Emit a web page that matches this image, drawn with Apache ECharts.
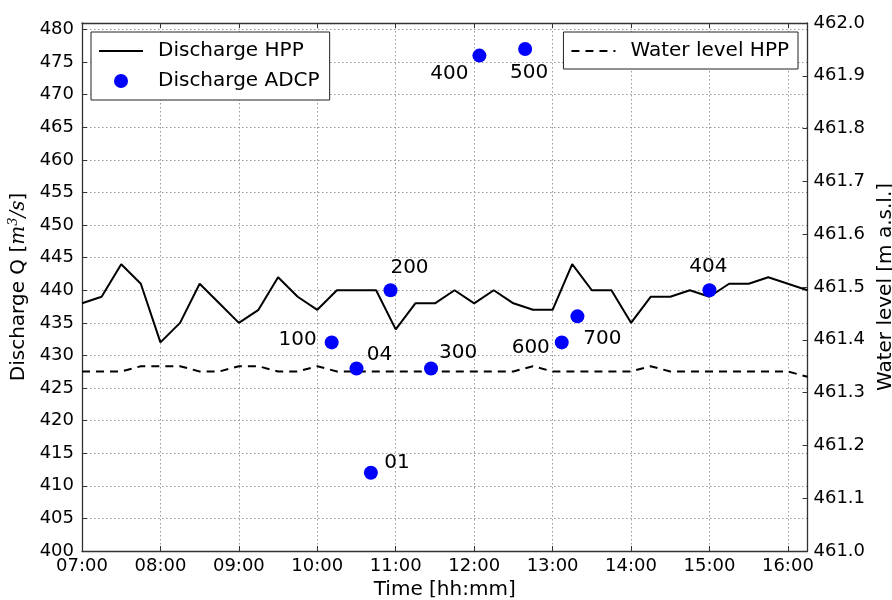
<!DOCTYPE html>
<html>
<head>
<meta charset="utf-8">
<script src="https://cdn.jsdelivr.net/npm/echarts@6/dist/echarts.min.js"></script>
<style>
  html, body { margin: 0; padding: 0; background: #fff; }
  #chart { width: 892px; height: 600px; }
</style>
</head>
<body>
<div id="chart"></div>
<script>
// 15-minute HPP record
const hppTimes = ['07:00','07:15','07:30','07:45','08:00','08:15','08:30','08:45',
  '09:00','09:15','09:30','09:45','10:00','10:15','10:30','10:45',
  '11:00','11:15','11:30','11:45','12:00','12:15','12:30','12:45',
  '13:00','13:15','13:30','13:45','14:00','14:15','14:30','14:45',
  '15:00','15:15','15:30','15:45','16:00','16:15'];
const dischargeHpp = [438,439,444,441,432,435,441,438,
  435,437,442,439,437,440,440,440,
  434,438,438,440,438,440,438,437,
  437,444,440,440,435,439,439,440,
  439,441,441,442,441,440];
const waterLevelHpp = [461.34,461.34,461.34,461.35,461.35,461.35,461.34,461.34,
  461.35,461.35,461.34,461.34,461.35,461.34,461.34,461.34,
  461.34,461.34,461.34,461.34,461.34,461.34,461.34,461.35,
  461.34,461.34,461.34,461.34,461.34,461.35,461.34,461.34,
  461.34,461.34,461.34,461.34,461.34,461.33];

// ADCP measurements
const adcpNames = ['100','04','01','200','300','400','500','600','700','404'];
const adcpTimes = ['10:11','10:30','10:41','10:56','11:27','12:04','12:39','13:07','13:19','15:00'];
const adcpValues = [432,428,412,440,428,476,477,432,436,440];

// label placement around each ADCP marker (pixels)
const labelOffsets = {
  '100': [-34, -3], '04': [23, -14], '01': [26, -10], '200': [19, -22],
  '300': [27, -16], '400': [-30, 18], '500': [4, 24], '600': [-31, 5],
  '700': [25, 22], '404': [-1, -23]
};

const FONT = 'DejaVu Sans';
const toMin = s => { const p = s.split(':'); return (+p[0]) * 60 + (+p[1]); };
const fmtTime = v => {
  const h = Math.floor(v / 60), m = Math.round(v % 60);
  return String(h).padStart(2, '0') + ':' + String(m).padStart(2, '0');
};

const frame = { show: true, lineStyle: { color: '#333', width: 1.3 } };
const tickIn = { show: true, inside: true, length: 5, lineStyle: { color: '#333', width: 1 } };
const grid = { show: true, lineStyle: { color: '#999', width: 1, type: [1.5, 2.5] } };
const legendText = { fontSize: 20, color: '#000', fontFamily: FONT, padding: [0, 0, 0, 10] };
const noMarker = { opacity: 0 };

const chart = echarts.init(document.getElementById('chart'), null, { renderer: 'canvas' });

chart.setOption({
  animation: false,
  backgroundColor: '#fff',
  textStyle: { fontFamily: FONT },
  grid: { left: 82, right: 84.5, top: 23, bottom: 49, containLabel: false, outerBoundsMode: 'none' },
  legend: [
    {
      data: [
        { name: 'Discharge HPP', itemStyle: noMarker },
        { name: 'Discharge ADCP' }
      ],
      orient: 'vertical', left: 91, top: 32,
      itemWidth: 44, itemHeight: 14, itemGap: 10,
      padding: [9, 10, 9, 7],
      borderColor: '#222', borderWidth: 1, backgroundColor: '#fff',
      textStyle: legendText
    },
    {
      data: [{ name: 'Water level HPP', itemStyle: noMarker }],
      orient: 'vertical', right: 94, top: 32,
      itemWidth: 44, itemHeight: 14,
      padding: [9, 9, 8, 7],
      borderColor: '#222', borderWidth: 1, backgroundColor: '#fff',
      textStyle: legendText
    }
  ],
  xAxis: [
    {
      type: 'value', position: 'bottom',
      min: 420, max: 975, interval: 60,
      name: 'Time [hh:mm]', nameLocation: 'middle', nameGap: 28,
      nameTextStyle: { fontSize: 20, color: '#000', fontFamily: FONT },
      axisLine: frame, axisTick: tickIn, splitLine: grid,
      axisLabel: { fontSize: 18, color: '#000', fontFamily: FONT, margin: 6,
        showMaxLabel: false, formatter: fmtTime }
    },
    {
      type: 'value', position: 'top',
      min: 420, max: 975, interval: 60,
      axisLine: frame, axisTick: tickIn, splitLine: { show: false },
      axisLabel: { show: false }
    }
  ],
  yAxis: [
    {
      type: 'value', position: 'left',
      min: 400, max: 481, interval: 5,
      name: 'Discharge Q [{it|m}{sup|3}{it|/s}]',
      nameLocation: 'middle', nameGap: 48,
      nameTextStyle: {
        fontSize: 20, color: '#000', fontFamily: FONT,
        rich: {
          it: { fontSize: 20, fontStyle: 'italic', fontFamily: 'DejaVu Serif', color: '#000' },
          sup: { fontSize: 13, fontStyle: 'italic', fontFamily: 'DejaVu Serif', color: '#000',
            padding: [0, 0, 10, 0] }
        }
      },
      axisLine: frame, axisTick: tickIn, splitLine: grid,
      axisLabel: { fontSize: 18, color: '#000', fontFamily: FONT, margin: 8,
        showMaxLabel: false, formatter: v => String(Math.round(v)) }
    },
    {
      type: 'value', position: 'right',
      min: 461.0, max: 462.0, interval: 0.1,
      name: 'Water level [m a.s.l.]', nameLocation: 'middle', nameGap: 66,
      nameTextStyle: { fontSize: 20, color: '#000', fontFamily: FONT },
      axisLine: frame, axisTick: tickIn, splitLine: { show: false },
      axisLabel: { fontSize: 18, color: '#000', fontFamily: FONT, margin: 6,
        formatter: v => v.toFixed(1) }
    }
  ],
  series: [
    {
      name: 'Discharge HPP', type: 'line',
      xAxisIndex: 0, yAxisIndex: 0,
      showSymbol: false, symbol: 'none',
      lineStyle: { color: '#000', width: 2 },
      itemStyle: { color: '#000' },
      data: hppTimes.map((t, i) => [toMin(t), dischargeHpp[i]]),
      z: 3
    },
    {
      name: 'Water level HPP', type: 'line',
      xAxisIndex: 0, yAxisIndex: 1,
      showSymbol: false, symbol: 'none',
      lineStyle: { color: '#000', width: 2, type: [8, 6] },
      itemStyle: { color: '#000' },
      data: hppTimes.map((t, i) => [toMin(t), waterLevelHpp[i]]),
      z: 3
    },
    {
      name: 'Discharge ADCP', type: 'scatter',
      xAxisIndex: 0, yAxisIndex: 0,
      symbol: 'circle', symbolSize: 14,
      itemStyle: { color: '#0000ff', borderWidth: 0, opacity: 1 },
      data: adcpNames.map((n, i) => ({
        name: n,
        value: [toMin(adcpTimes[i]), adcpValues[i]],
        label: {
          show: true, position: 'inside', offset: labelOffsets[n],
          formatter: n, fontSize: 20, color: '#000', fontFamily: FONT,
          textBorderWidth: 0
        }
      })),
      z: 4
    }
  ]
});
</script>
</body>
</html>
